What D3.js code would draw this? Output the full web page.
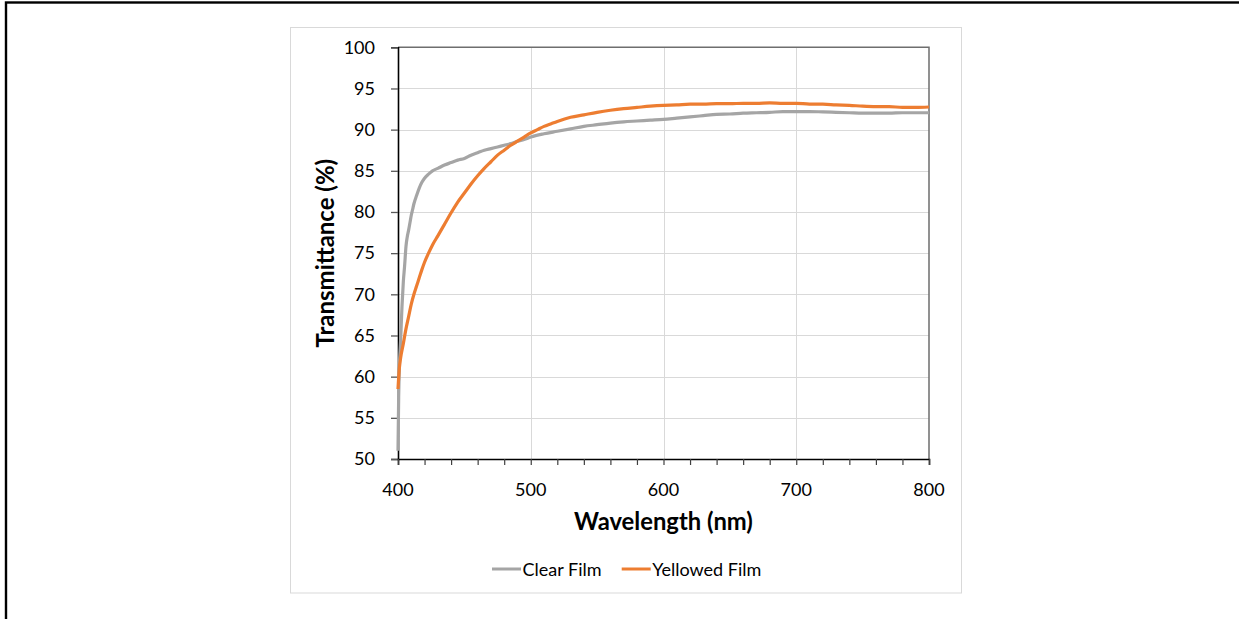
<!DOCTYPE html>
<html>
<head>
<meta charset="utf-8">
<script src="https://cdn.jsdelivr.net/npm/d3@7"></script>
<style>
  html, body { margin: 0; padding: 0; background: #fff; }
  svg { display: block; }
</style>
</head>
<body>
<svg id="chart" width="1239" height="619"></svg>
<script>
// Transmittance spectra of a clear and a yellowed film (wavelength in nm, T in %)
const clearWavelength = [400, 400.5, 401, 402, 403, 404, 405, 406, 407, 408, 409, 410, 411, 412, 414, 416, 418, 420, 423, 426, 430, 435, 440, 445, 450, 455, 460, 465, 470, 475, 480, 485, 490, 495, 500, 510, 520, 530, 540, 550, 560, 570, 580, 590, 600, 610, 620, 630, 640, 650, 660, 670, 680, 690, 700, 710, 720, 730, 740, 750, 760, 770, 780, 790, 800];
const clearValues = [51.0, 57.5, 61.0, 64.5, 68.5, 71.5, 73.5, 75.8, 77.0, 77.8, 78.7, 79.6, 80.3, 81.0, 82.0, 82.9, 83.6, 84.1, 84.6, 85.0, 85.3, 85.7, 86.0, 86.3, 86.5, 86.9, 87.2, 87.5, 87.7, 87.9, 88.1, 88.3, 88.6, 88.8, 89.1, 89.5, 89.8, 90.1, 90.4, 90.6, 90.8, 90.95, 91.05, 91.15, 91.25, 91.4, 91.55, 91.7, 91.85, 91.9, 92.0, 92.05, 92.1, 92.2, 92.2, 92.2, 92.15, 92.1, 92.05, 92.0, 92.0, 92.0, 92.05, 92.05, 92.05];

const yellowedWavelength = [400, 401, 402, 404, 406, 408, 410, 412, 414, 416, 418, 420, 423, 426, 430, 435, 440, 445, 450, 455, 460, 465, 470, 475, 480, 485, 490, 495, 500, 505, 510, 515, 520, 530, 540, 550, 560, 570, 580, 590, 600, 610, 620, 630, 640, 650, 660, 670, 680, 690, 700, 710, 720, 730, 740, 750, 760, 770, 780, 790, 800];
const yellowedValues = [58.5, 61.0, 62.3, 64.0, 65.8, 67.3, 68.8, 70.0, 71.0, 72.0, 73.0, 73.9, 75.0, 76.0, 77.1, 78.5, 79.9, 81.2, 82.3, 83.4, 84.4, 85.3, 86.1, 86.9, 87.5, 88.1, 88.6, 89.1, 89.6, 90.0, 90.4, 90.7, 91.0, 91.5, 91.8, 92.1, 92.35, 92.55, 92.7, 92.85, 92.95, 93.0, 93.1, 93.1, 93.15, 93.15, 93.2, 93.2, 93.25, 93.2, 93.2, 93.1, 93.1, 93.0, 92.95, 92.85, 92.8, 92.8, 92.7, 92.7, 92.75];

const seriesNames = ["Clear Film", "Yellowed Film"];
const seriesColors = ["#a5a5a5", "#ed7d31"];

const xTicks = [400, 500, 600, 700, 800];
const xMinorTicks = d3.range(400, 801, 20);
const yTicks = [50, 55, 60, 65, 70, 75, 80, 85, 90, 95, 100];

const xTitle = "Wavelength (nm)";
const yTitle = "Transmittance (%)";

const FONT = "Lato, Calibri, Carlito, 'Liberation Sans', sans-serif";

const svg = d3.select("#chart");

// page border (top and left edges visible)
svg.append("rect")
  .attr("x", 6).attr("y", 2.5)
  .attr("width", 1400).attr("height", 800)
  .attr("fill", "none").attr("stroke", "#000").attr("stroke-width", 2.4);

// chart area frame
svg.append("rect")
  .attr("x", 290.5).attr("y", 27.5)
  .attr("width", 671).attr("height", 565.5)
  .attr("fill", "#fff").attr("stroke", "#d9d9d9").attr("stroke-width", 1);

const plot = { left: 398, right: 929, top: 47.3, bottom: 459 };

const x = d3.scaleLinear().domain([400, 800]).range([plot.left, plot.right]);
const y = d3.scaleLinear().domain([50, 100]).range([plot.bottom, plot.top]);

// gridlines
const grid = svg.append("g").attr("stroke", "#d9d9d9").attr("stroke-width", 1);
grid.selectAll("line.h").data(yTicks.filter(v => v > 50 && v < 100)).join("line")
  .attr("class", "h")
  .attr("x1", plot.left).attr("x2", plot.right)
  .attr("y1", d => Math.round(y(d)) + 0.5).attr("y2", d => Math.round(y(d)) + 0.5);
grid.selectAll("line.v").data(xTicks.filter(v => v > 400 && v < 800)).join("line")
  .attr("class", "v")
  .attr("y1", plot.top).attr("y2", plot.bottom)
  .attr("x1", d => Math.round(x(d)) + 0.5).attr("x2", d => Math.round(x(d)) + 0.5);

// plot border on top and right
svg.append("path")
  .attr("d", `M${plot.left},${plot.top}H${plot.right}V${plot.bottom}`)
  .attr("fill", "none").attr("stroke", "#6e6e6e").attr("stroke-width", 1.5);

// y axis
const yAxis = svg.append("g")
  .attr("transform", `translate(${plot.left},0)`)
  .call(d3.axisLeft(y).tickValues(yTicks).tickSize(7).tickPadding(16).tickFormat(d3.format("d")));
yAxis.select(".domain").attr("stroke", "#000").attr("stroke-width", 1.6);
yAxis.selectAll(".tick line").attr("stroke", "#595959").attr("stroke-width", 1.3);
yAxis.selectAll(".tick text")
  .attr("font-family", FONT).attr("font-size", 18).attr("fill", "#000");

// x axis with minor ticks every 20 nm
const xAxis = svg.append("g")
  .attr("transform", `translate(0,${plot.bottom})`)
  .call(d3.axisBottom(x).tickValues(xMinorTicks).tickSize(6).tickFormat(""));
xAxis.select(".domain").attr("stroke", "#000").attr("stroke-width", 1.6);
xAxis.selectAll(".tick line").attr("stroke", "#404040").attr("stroke-width", 1.2);

svg.append("g").selectAll("text").data(xTicks).join("text")
  .attr("x", d => x(d)).attr("y", 489)
  .attr("text-anchor", "middle").attr("dominant-baseline", "central")
  .attr("font-family", FONT).attr("font-size", 18).attr("fill", "#000")
  .text(d => d);

// axis titles
svg.append("text")
  .attr("x", (plot.left + plot.right) / 2).attr("y", 521)
  .attr("text-anchor", "middle").attr("dominant-baseline", "central")
  .attr("font-family", FONT).attr("font-size", 23.8).attr("font-weight", "bold")
  .text(xTitle);

svg.append("text")
  .attr("transform", `translate(324,${(plot.top + plot.bottom) / 2}) rotate(-90)`)
  .attr("text-anchor", "middle").attr("dominant-baseline", "central")
  .attr("font-family", FONT).attr("font-size", 24).attr("font-weight", "bold")
  .text(yTitle);

// series lines
const series = [
  { name: seriesNames[0], color: seriesColors[0], pts: clearWavelength.map((w, i) => [w, clearValues[i]]) },
  { name: seriesNames[1], color: seriesColors[1], pts: yellowedWavelength.map((w, i) => [w, yellowedValues[i]]) }
];

const line = d3.line().x(d => x(d[0])).y(d => y(d[1])).curve(d3.curveMonotoneX);

svg.append("g").selectAll("path").data(series).join("path")
  .attr("d", d => line(d.pts))
  .attr("fill", "none")
  .attr("stroke", d => d.color)
  .attr("stroke-width", 3.2)
  .attr("stroke-linejoin", "round")
  .attr("stroke-linecap", "butt");

// legend
const legendItems = [
  { x0: 492, name: seriesNames[0], color: seriesColors[0] },
  { x0: 621.7, name: seriesNames[1], color: seriesColors[1] }
];
const lg = svg.append("g").selectAll("g").data(legendItems).join("g")
  .attr("transform", d => `translate(${d.x0},569)`);
lg.append("line")
  .attr("x1", 0).attr("x2", 29).attr("y1", 0).attr("y2", 0)
  .attr("stroke", d => d.color).attr("stroke-width", 3);
lg.append("text")
  .attr("x", 30.5).attr("y", 0)
  .attr("dominant-baseline", "central")
  .attr("font-family", FONT).attr("font-size", 18).attr("fill", "#000")
  .text(d => d.name);
</script>
</body>
</html>
